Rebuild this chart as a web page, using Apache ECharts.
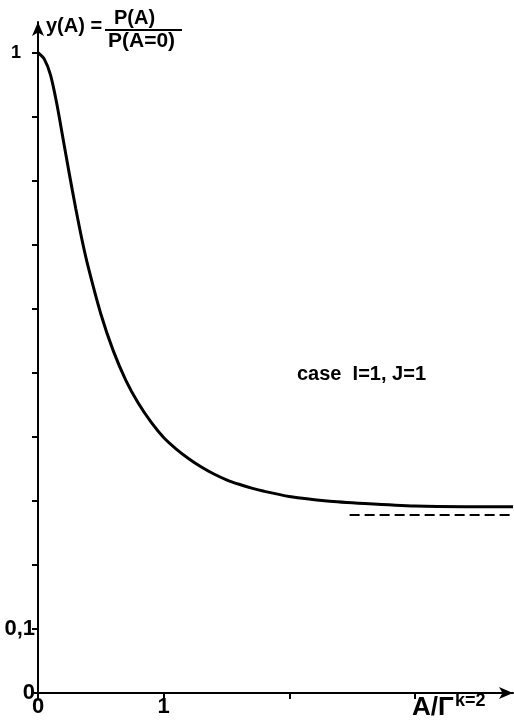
<!DOCTYPE html>
<html>
<head>
<meta charset="utf-8">
<script src="https://cdn.jsdelivr.net/npm/echarts@6/dist/echarts.min.js"></script>
<style>
  html, body { margin: 0; padding: 0; background: #fff; }
  #chart { width: 514px; height: 726px; }
</style>
</head>
<body>
<div id="chart"></div>
<script>
// curve y(A) = P(A)/P(A=0), A in units of Γ
const curveA = [0, 0.05, 0.1, 0.15, 0.2, 0.25, 0.3, 0.35, 0.4, 0.5, 0.6, 0.7, 0.8, 0.9, 1.0, 1.1, 1.2, 1.3, 1.4, 1.5, 1.6, 1.7, 1.8, 2.0, 2.3, 2.6, 3.0, 3.4, 3.78];
const curveY = [1.0, 0.99, 0.965, 0.92, 0.865, 0.81, 0.757, 0.708, 0.665, 0.592, 0.534, 0.488, 0.452, 0.423, 0.399, 0.381, 0.366, 0.353, 0.342, 0.333, 0.326, 0.32, 0.315, 0.307, 0.3, 0.296, 0.292, 0.291, 0.291];
// asymptote (dashed)
const asymA = [2.48, 3.78];
const asymY = [0.278, 0.278];

const xTicks = [0, 1, 2, 3];
const xLabels = [0, 1];
const yTicks = [0, 0.1, 0.2, 0.3, 0.4, 0.5, 0.6, 0.7, 0.8, 0.9, 1.0];
const yLabels = [0, 0.1, 1];

const labelFont = '"Liberation Sans", Arial, sans-serif';

const chart = echarts.init(document.getElementById('chart'));

// plain bold text helper for the annotations
const txt = (text, left, top, size) => ({
  type: 'text', left: left, top: top,
  style: { text: text, fontSize: size, fontWeight: 'bold', fontFamily: labelFont, fill: '#000' }
});

const option = {
  backgroundColor: '#fff',
  animation: false,
  grid: { left: 38, right: 1, top: 22, bottom: 33 },
  xAxis: {
    type: 'value',
    min: 0,
    max: 3.78,
    interval: 1,
    splitLine: { show: false },
    axisLine: {
      onZero: false,
      lineStyle: { color: '#000', width: 2 },
      symbol: ['none', 'arrow'],
      symbolSize: [9, 14]
    },
    axisTick: { customValues: xTicks, length: 6, lineStyle: { color: '#000', width: 2 } },
    axisLabel: {
      customValues: xLabels,
      color: '#000',
      fontFamily: labelFont,
      fontWeight: 'bold',
      fontSize: 22,
      margin: 3
    }
  },
  yAxis: {
    type: 'value',
    min: 0,
    max: 1.048,
    interval: 0.1,
    splitLine: { show: false },
    axisLine: {
      onZero: false,
      lineStyle: { color: '#000', width: 2 },
      symbol: ['none', 'arrow'],
      symbolSize: [9, 14]
    },
    axisTick: { customValues: yTicks, length: 6, lineStyle: { color: '#000', width: 2 } },
    axisLabel: {
      customValues: yLabels,
      color: '#000',
      fontFamily: labelFont,
      fontWeight: 'bold',
      fontSize: 22,
      margin: 3,
      formatter: (v) => {
        if (v === 0) return '0';
        if (Math.abs(v - 0.1) < 1e-6) return '0,1';
        return '{s|1}';
      },
      rich: {
        s: { fontSize: 18, fontWeight: 'bold', fontFamily: labelFont, color: '#000', padding: [0, 14, 0, 0] }
      }
    }
  },
  graphic: [
    txt('y(A) =', 46, 16, 20),
    txt('P(A)', 114, 8, 20),
    {
      type: 'line',
      shape: { x1: 105, y1: 30, x2: 182, y2: 30 },
      style: { stroke: '#000', lineWidth: 2 }
    },
    txt('P(A=0)', 108, 31, 21),
    txt('case  I=1, J=1', 297, 364, 20),
    txt('A/Γ', 412, 695, 26),
    txt('k=2', 455, 692, 18)
  ],
  series: [
    {
      name: 'y(A)',
      type: 'line',
      smooth: 0.25,
      showSymbol: false,
      data: curveA.map((a, i) => [a, curveY[i]]),
      lineStyle: { color: '#000', width: 3 }
    },
    {
      name: 'asymptote',
      type: 'line',
      showSymbol: false,
      data: asymA.map((a, i) => [a, asymY[i]]),
      lineStyle: { color: '#000', width: 2, type: [10, 5] }
    }
  ]
};

chart.setOption(option);
</script>
</body>
</html>
